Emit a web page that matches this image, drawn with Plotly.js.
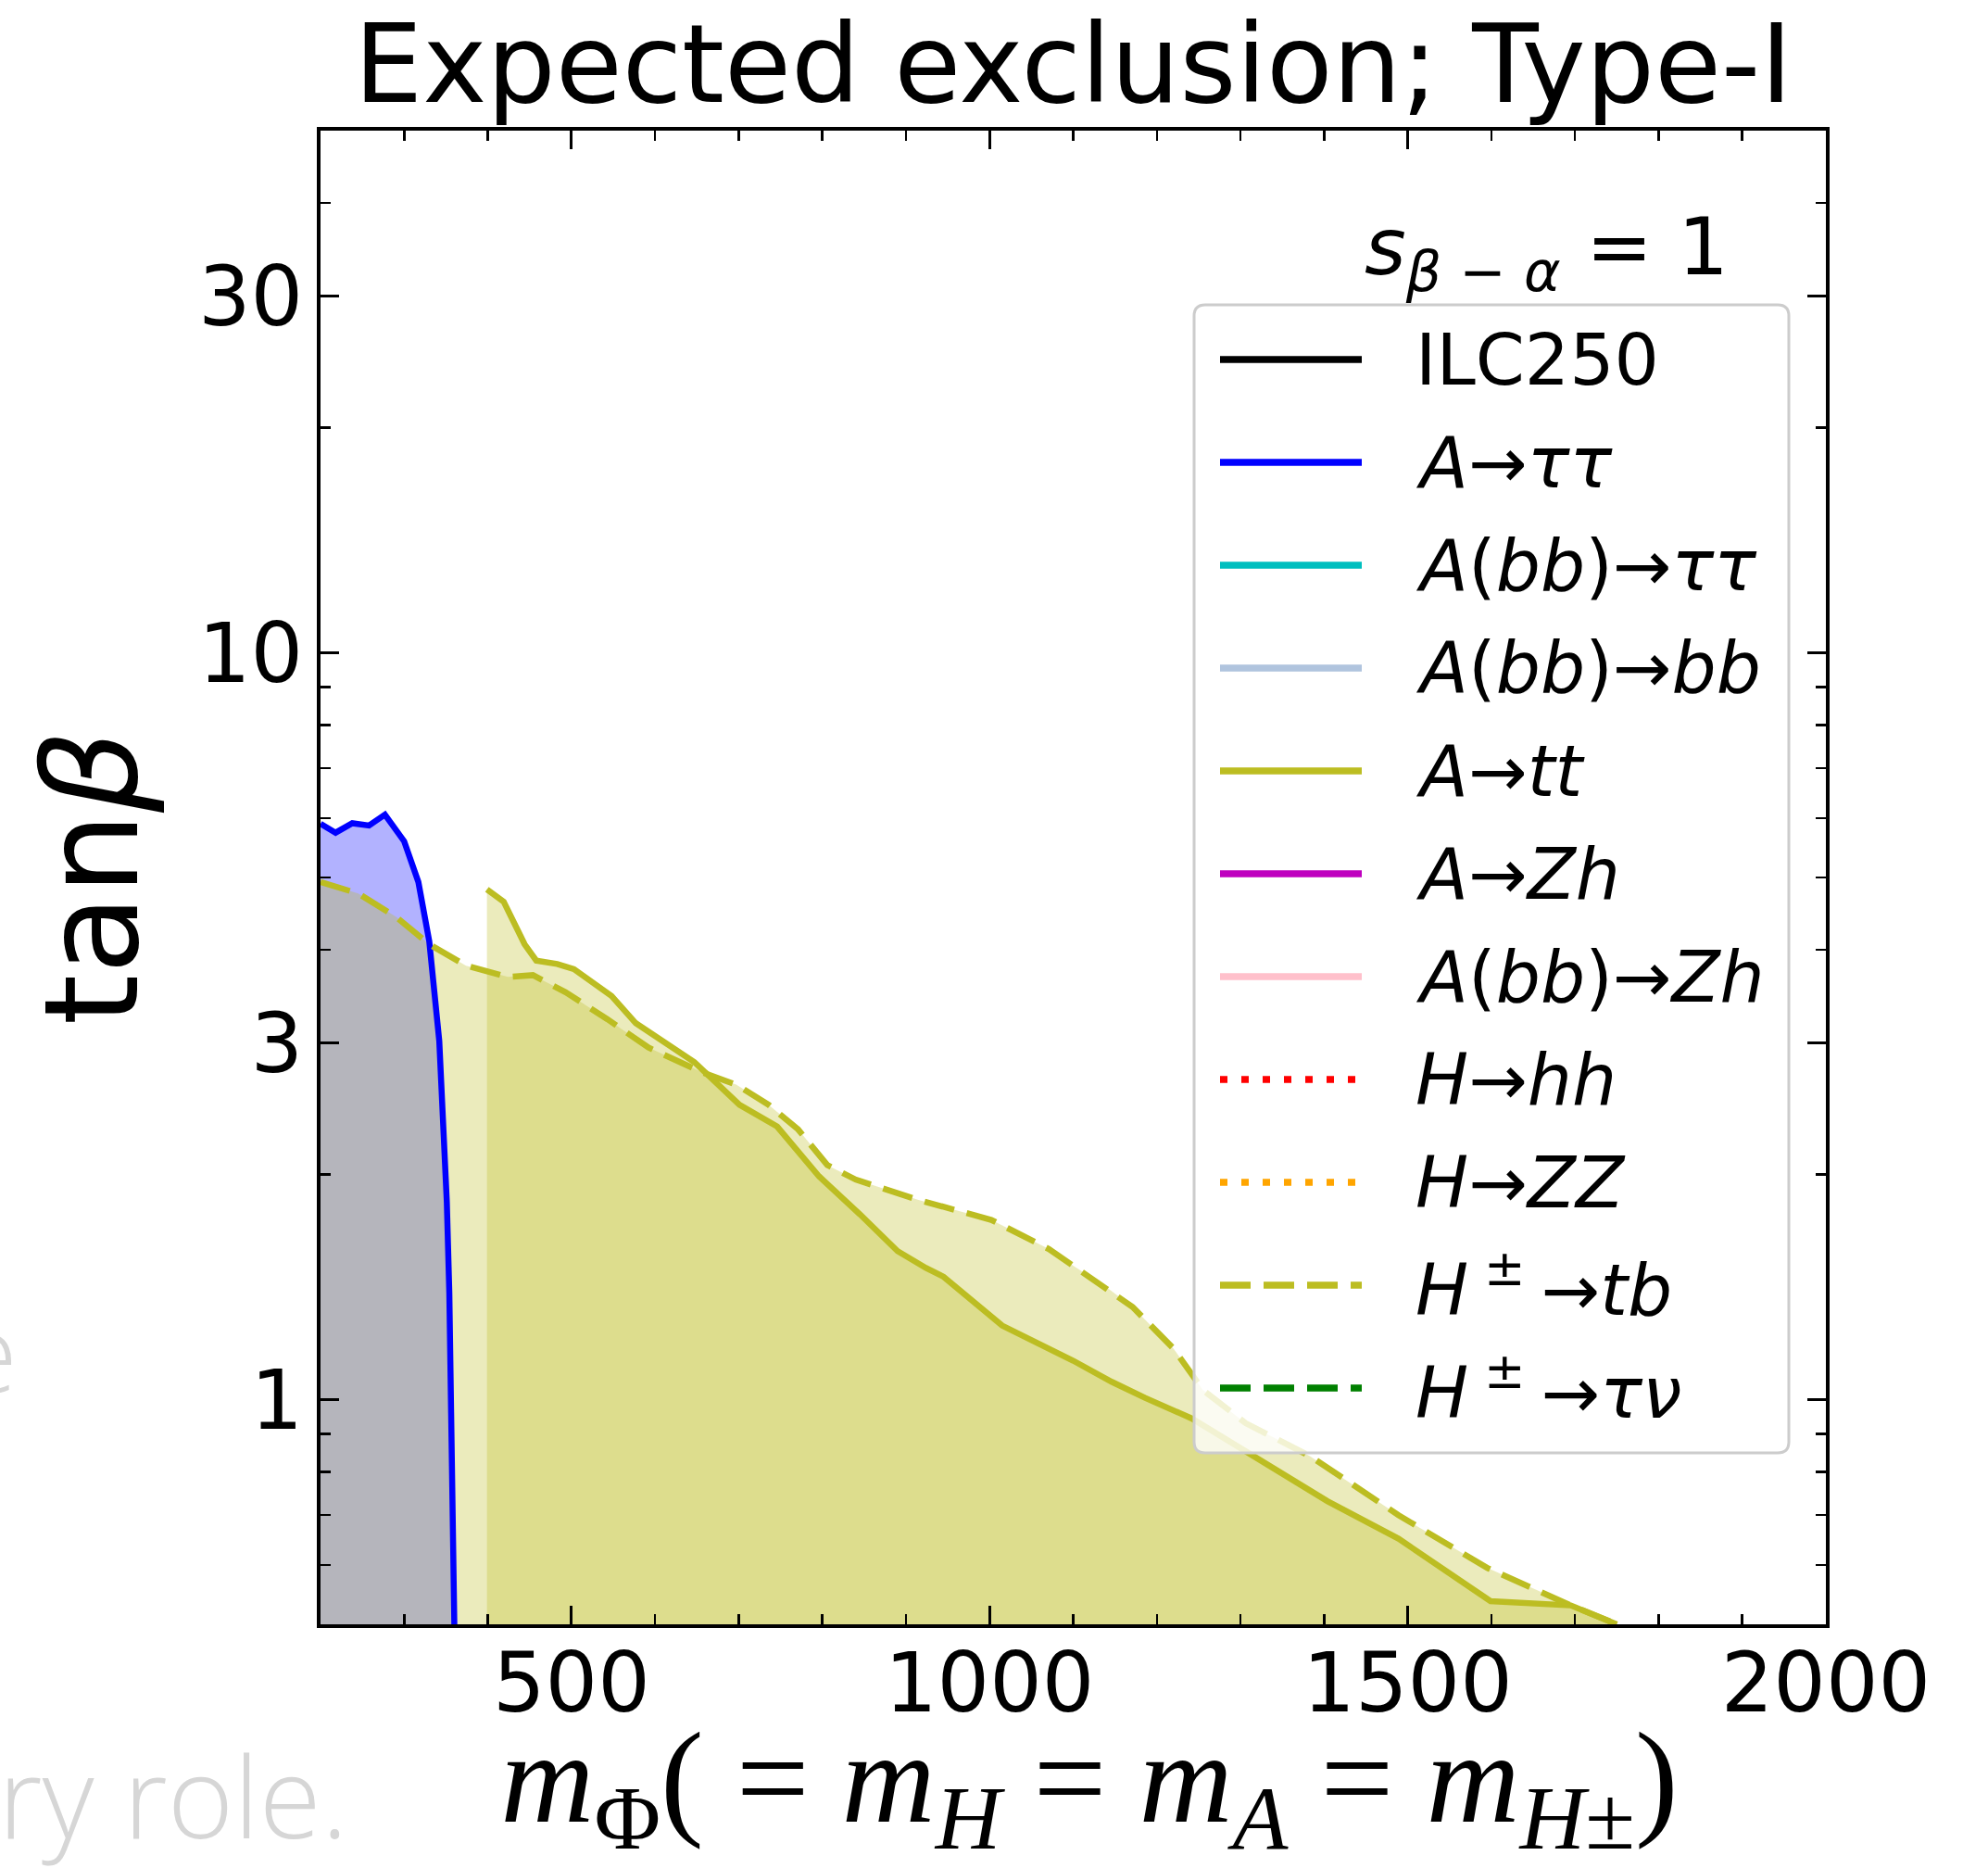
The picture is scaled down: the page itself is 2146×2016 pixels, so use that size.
<!DOCTYPE html>
<html>
<head>
<meta charset="utf-8">
<script src="https://cdn.plot.ly/plotly-3.0.1.min.js"></script>
<style>html,body{margin:0;padding:0;background:#fff;}#chart{width:2146px;height:2016px;}</style>
</head>
<body>
<div id="chart"></div>
<script>
// ---------- data ----------
// A -> tau tau exclusion boundary
const xTauTau = [200, 218, 238, 258, 277, 300, 317, 330, 342, 351, 354, 356, 358, 360];
const yTauTau = [5.90, 5.74, 5.91, 5.87, 6.07, 5.59, 4.93, 4.11, 3.02, 1.84, 1.39, 1.0, 0.70, 0.5];

// A -> t t exclusion boundary
const xTT = [399, 419, 444, 458, 483, 503, 548, 577, 647, 701, 746, 796, 845, 890, 924, 945, 1015, 1100, 1146, 1186, 1242, 1291, 1348, 1404, 1489, 1599, 1695, 1750];
const yTT = [4.82, 4.64, 4.07, 3.87, 3.83, 3.77, 3.47, 3.19, 2.83, 2.48, 2.32, 1.99, 1.77, 1.58, 1.50, 1.46, 1.256, 1.127, 1.056, 1.005, 0.943, 0.872, 0.798, 0.731, 0.651, 0.537, 0.530, 0.5];

// H+- -> t b exclusion boundary
const xTB = [200, 245, 290, 330, 374, 424, 454, 493, 543, 592, 657, 697, 736, 771, 806, 840, 915, 1002, 1071, 1100, 1141, 1171, 1220, 1255, 1306, 1383, 1489, 1595, 1695, 1750];
const yTB = [4.93, 4.76, 4.43, 4.07, 3.81, 3.68, 3.70, 3.51, 3.23, 2.96, 2.74, 2.64, 2.48, 2.30, 2.06, 1.97, 1.85, 1.74, 1.59, 1.51, 1.41, 1.33, 1.17, 1.03, 0.93, 0.84, 0.70, 0.595, 0.53, 0.5];

// lower edge of the excluded regions (bottom of the tan(beta) range)
const yFloor = 0.5;

// axis ticks
const xMajorTicks = [500, 1000, 1500, 2000];
const xMinorTicks = [300, 400, 600, 700, 800, 900, 1100, 1200, 1300, 1400, 1600, 1700, 1800, 1900];
const yMajorTicks = [1, 3, 10, 30];
const yMajorText = ['1', '3', '10', '30'];
const yMinorTicks = [0.6, 0.7, 0.8, 0.9, 2, 4, 5, 6, 7, 8, 9, 20, 40];

// legend entries
const legendLabels = [
  'ILC250',
  '<i>A</i>→<i>ττ</i>',
  '<i>A</i>(<i>bb</i>)→<i>ττ</i>',
  '<i>A</i>(<i>bb</i>)→<i>bb</i>',
  '<i>A</i>→<i>tt</i>',
  '<i>A</i>→<i>Zh</i>',
  '<i>A</i>(<i>bb</i>)→<i>Zh</i>',
  '<i>H</i>→<i>hh</i>',
  '<i>H</i>→<i>ZZ</i>',
  '<i>H</i><sup> ± </sup>→<i>tb</i>',
  '<i>H</i><sup> ± </sup>→<i>τν</i>'
];
const legendColors = ['#000000', '#0000ff', '#00bfbf', '#b0c4de', '#bcbd22', '#bf00bf', '#ffc0cb', '#ff0000', '#ffa500', '#bcbd22', '#008000'];
const legendDash = ['solid', 'solid', 'solid', 'solid', 'solid', 'solid', 'solid', 'dot', 'dot', 'dash', 'dash'];

// ---------- styling ----------
const FONT = 'DejaVu Sans';
const BLUE = '#0000ff';
const OLIVE = '#bcbd22';
const W = 2146, H = 2016;
const M = {l: 346, r: 175, t: 141, b: 263};
const PW = W - M.l - M.r, PH = H - M.t - M.b;
const px2x = X => (X - M.l) / PW;       // page pixel -> paper x
const px2y = Y => (H - M.b - Y) / PH;   // page pixel -> paper y
const dashMap = {solid: 'solid', dot: '8px,15px', dash: '33px,14px'};

function closedRegion(xs, ys, floor) {
  return {x: xs.concat([xs[xs.length - 1], xs[0]]), y: ys.concat([floor, floor])};
}

const fTau = closedRegion(xTauTau, yTauTau, yFloor);
const fTT = closedRegion(xTT, yTT, yFloor);
const fTB = closedRegion(xTB, yTB, yFloor);

const traces = [
  {x: fTau.x, y: fTau.y, mode: 'lines', fill: 'toself', fillcolor: 'rgba(0,0,255,0.3)', line: {width: 0}, showlegend: false, hoverinfo: 'skip'},
  {x: fTT.x, y: fTT.y, mode: 'lines', fill: 'toself', fillcolor: 'rgba(188,189,34,0.3)', line: {width: 0}, showlegend: false, hoverinfo: 'skip'},
  {x: fTB.x, y: fTB.y, mode: 'lines', fill: 'toself', fillcolor: 'rgba(188,189,34,0.3)', line: {width: 0}, showlegend: false, hoverinfo: 'skip'},
  {x: xTauTau, y: yTauTau, mode: 'lines', line: {color: BLUE, width: 6.5}, name: 'A→ττ', showlegend: false},
  {x: xTT, y: yTT, mode: 'lines', line: {color: OLIVE, width: 6.5}, name: 'A→tt', showlegend: false},
  {x: xTB, y: yTB, mode: 'lines', line: {color: OLIVE, width: 6.5, dash: dashMap.dash}, name: 'H±→tb', showlegend: false}
];

// ---------- legend (drawn in paper space) ----------
const legBox = {x0: 1289, x1: 1931, y0: 329, y1: 1568, r: 12};
const rowY0 = 388, rowStep = 111;
const sampleX0 = 1317, sampleX1 = 1470, textX = 1526;

function roundedRect(b) {
  const X0 = px2x(b.x0), X1 = px2x(b.x1), YT = px2y(b.y0), YB = px2y(b.y1);
  const rx = b.r / PW, ry = b.r / PH;
  return `M${X0 + rx},${YT} L${X1 - rx},${YT} Q${X1},${YT} ${X1},${YT - ry} L${X1},${YB + ry} Q${X1},${YB} ${X1 - rx},${YB} L${X0 + rx},${YB} Q${X0},${YB} ${X0},${YB + ry} L${X0},${YT - ry} Q${X0},${YT} ${X0 + rx},${YT} Z`;
}

const shapes = [{
  type: 'path', xref: 'paper', yref: 'paper', layer: 'above',
  path: roundedRect(legBox),
  fillcolor: 'rgba(255,255,255,0.8)', line: {color: '#cccccc', width: 3}
}];
const annotations = [];
legendLabels.forEach((lab, i) => {
  const Y = rowY0 + i * rowStep;
  shapes.push({
    type: 'line', xref: 'paper', yref: 'paper', layer: 'above',
    x0: px2x(sampleX0), x1: px2x(sampleX1), y0: px2y(Y), y1: px2y(Y),
    line: {color: legendColors[i], width: 7.5, dash: dashMap[legendDash[i]]}
  });
  annotations.push({
    xref: 'paper', yref: 'paper', x: px2x(textX), y: px2y(Y), xanchor: 'left', yanchor: 'middle',
    text: lab, showarrow: false, font: {family: FONT, size: 76, color: '#000'}
  });
});

// s_{beta-alpha} = 1 label
annotations.push({
  xref: 'paper', yref: 'paper', x: px2x(1868), y: px2y(272), xanchor: 'right', yanchor: 'middle',
  text: '<i>s</i><sub><i>β</i> − <i>α</i></sub> = 1', showarrow: false,
  font: {family: FONT, size: 86, color: '#000'}
});

// faint text of the surrounding slide, cut by the crop
annotations.push({
  xref: 'paper', yref: 'paper', x: px2x(-47), y: px2y(1458), xanchor: 'left', yanchor: 'middle',
  text: 'e', showarrow: false, font: {family: 'Open Sans', size: 116, color: '#d6d6d6', weight: 300}
});
annotations.push({
  xref: 'paper', yref: 'paper', x: px2x(-4), y: px2y(1937), xanchor: 'left', yanchor: 'middle',
  text: 'ry role.', showarrow: false, font: {family: 'Open Sans', size: 122, color: '#d6d6d6', weight: 300}
});

const axisCommon = {
  showline: true, linecolor: '#000', linewidth: 4, mirror: 'allticks',
  ticks: 'inside', ticklen: 20, tickwidth: 3, tickcolor: '#000',
  showgrid: false, zeroline: false,
  tickfont: {family: FONT, size: 89, color: '#000'}
};

const layout = {
  width: W, height: H,
  margin: M,
  paper_bgcolor: '#fff', plot_bgcolor: '#fff',
  showlegend: false,
  title: {
    text: 'Expected exclusion; Type-I',
    font: {family: FONT, size: 117, color: '#000'},
    x: 0.5, xref: 'paper', xanchor: 'center',
    y: 1, yref: 'paper', yanchor: 'bottom', pad: {b: 31}
  },
  xaxis: Object.assign({}, axisCommon, {
    range: [200, 2000],
    tickmode: 'array', tickvals: xMajorTicks,
    ticklabelstandoff: -17,
    minor: {tickmode: 'array', tickvals: xMinorTicks, ticks: 'inside', ticklen: 11, tickwidth: 2.5, tickcolor: '#000', showgrid: false},
    title: {
      text: '&nbsp;<i>m</i><sub>Φ</sub>( = <i>m</i><sub><i>H</i></sub> = <i>m</i><sub><i>A</i></sub> = <i>m</i><sub><i>H</i>±</sub>)',
      font: {family: 'Liberation Serif', size: 140, color: '#000'},
      standoff: 44
    }
  }),
  yaxis: Object.assign({}, axisCommon, {
    type: 'log',
    range: [Math.log10(0.5), Math.log10(50)],
    tickmode: 'array', tickvals: yMajorTicks, ticktext: yMajorText,
    ticklabelstandoff: -3,
    minor: {tickmode: 'array', tickvals: yMinorTicks, ticks: 'inside', ticklen: 11, tickwidth: 2.5, tickcolor: '#000', showgrid: false},
    title: {
      text: 'tan<i>β</i>',
      font: {family: FONT, size: 140, color: '#000'},
      standoff: 19
    }
  }),
  shapes: shapes,
  annotations: annotations
};

Plotly.newPlot('chart', traces, layout, {staticPlot: true, displayModeBar: false});
</script>
</body>
</html>
